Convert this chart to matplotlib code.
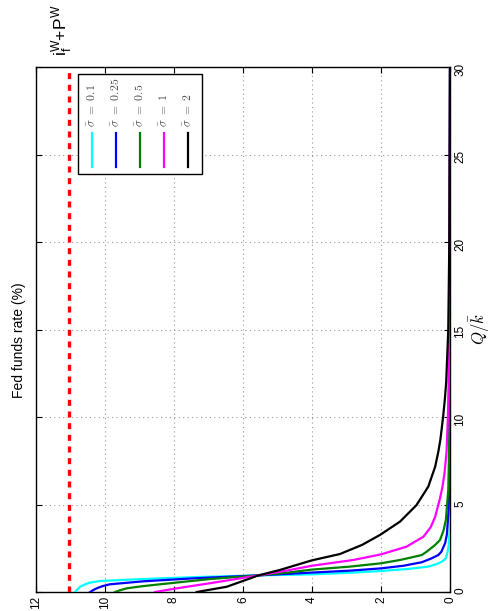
import matplotlib
matplotlib.use('Agg')
import matplotlib.pyplot as plt
from matplotlib.patches import Rectangle

plt.rcParams['font.family'] = ['Liberation Sans', 'DejaVu Sans']
plt.rcParams['mathtext.fontset'] = 'cm'

ceiling_rate = 11.05

sigma_labels = ['0.1', '0.25', '0.5', '1', '2']
colors = ['#00ffff', '#0000ff', '#008000', '#ff00ff', '#000000']

q_s01 = [0, 0.15, 0.3, 0.42, 0.53, 0.63, 0.74, 0.85, 0.95, 1.01, 1.1, 1.2, 1.32, 1.45, 1.6, 1.73, 1.9, 2.2, 2.6, 3.5, 30]
r_s01 = [10.87, 10.8, 10.72, 10.6, 10.45, 10.14, 8.9, 7.4, 5.55, 4.0, 2.9, 2.0, 1.2, 0.63, 0.38, 0.24, 0.13, 0.08, 0.04, 0.01, 0]

q_s025 = [0, 0.1, 0.21, 0.33, 0.44, 0.61, 0.78, 0.95, 1.11, 1.22, 1.35, 1.5, 1.7, 1.9, 2.11, 2.3, 2.8, 3.3, 4.7, 7, 30]
r_s025 = [10.43, 10.35, 10.24, 10.08, 9.86, 8.89, 7.44, 5.55, 4.0, 2.9, 2.0, 1.35, 0.82, 0.56, 0.34, 0.25, 0.14, 0.09, 0.04, 0.015, 0]

q_s05 = [0, 0.1, 0.21, 0.33, 0.44, 0.74, 0.95, 1.1, 1.28, 1.45, 1.64, 1.83, 2.11, 2.3, 2.69, 2.97, 3.5, 4.11, 5.83, 8.7, 12, 30]
r_s05 = [9.71, 9.56, 9.37, 8.92, 8.41, 6.96, 5.55, 4.75, 4.0, 2.9, 2.0, 1.45, 0.82, 0.68, 0.43, 0.29, 0.19, 0.12, 0.05, 0.02, 0.01, 0]

q_s1 = [0, 0.21, 0.5, 0.95, 1.2, 1.5, 1.83, 2.15, 2.59, 3.16, 3.7, 4.3, 5.35, 6.0, 6.78, 8.0, 10, 13, 30]
r_s1 = [8.55, 7.92, 6.96, 5.55, 4.8, 4.0, 2.8, 2.0, 1.26, 0.77, 0.56, 0.43, 0.29, 0.22, 0.16, 0.1, 0.06, 0.03, 0]

q_s2 = [0, 0.3, 0.95, 1.26, 1.81, 2.17, 2.69, 3.26, 4.02, 4.97, 6.02, 7.16, 8.0, 8.69, 10, 11, 12, 15, 20, 30]
r_s2 = [7.34, 6.47, 5.55, 4.93, 4.0, 3.19, 2.55, 2.03, 1.45, 0.97, 0.63, 0.43, 0.34, 0.28, 0.2, 0.15, 0.11, 0.05, 0.02, 0]

q_series = [q_s01, q_s025, q_s05, q_s1, q_s2]
r_series = [r_s01, r_s025, r_s05, r_s1, r_s2]

rate_ticks = [12, 10, 8, 6, 4, 2, 0]
q_ticks = [0, 5, 10, 15, 20, 25, 30]

fig = plt.figure(figsize=(4.91, 6.11), dpi=100)
ax = fig.add_axes([0.0733, 0.0311, 0.8432, 0.8592])

# chart is drawn turned on its side: rate runs right-to-left, Q runs upward
ax.axvline(ceiling_rate, color='red', lw=2.4, linestyle=(0, (1.8, 1.7)), zorder=3)
for q, r, c in zip(q_series, r_series, colors):
    ax.plot(r, q, color=c, lw=1.6, zorder=4)

ax.set_xlim(12, 0)
ax.set_ylim(0, 30)
ax.set_xticks(rate_ticks)
ax.set_yticks(q_ticks)
ax.yaxis.tick_right()
ax.yaxis.set_label_position('right')
ax.tick_params(direction='in', length=4, labelsize=8.5, top=True, bottom=True)
ax.tick_params(axis='y', left=True, right=True, labelleft=False, labelright=True,
               labelrotation=90, pad=3)
ax.tick_params(axis='x', labelrotation=90, pad=3)
ax.grid(True, linestyle=(0, (1, 3)), color='0.6', lw=0.8)
for s in ax.spines.values():
    s.set_linewidth(1.0)

ax.set_ylabel(r'$Q/\bar{k}$', rotation=90, fontsize=12, labelpad=1)

# legend, built by hand because its entries are rotated
ax.add_patch(Rectangle((0.101, 0.796), 0.300, 0.191, transform=ax.transAxes,
                       fc='white', ec='black', lw=1.0, zorder=5))
for i, (lab, c) in enumerate(zip(sigma_labels, colors)):
    x = 0.135 + i * 0.058
    ax.plot([x, x], [0.810, 0.874], transform=ax.transAxes, color=c, lw=1.6, zorder=6)
    ax.text(x, 0.886, r'$\bar{\sigma}\ =\ ' + lab + '$', transform=ax.transAxes,
            rotation=90, ha='center', va='bottom', fontsize=8.5, color='0.3', zorder=6)

fig.text(19 / 491, 1 - 340 / 611, 'Fed funds rate (%)', rotation=90,
         ha='center', va='center', fontsize=10)
fig.text(61.5 / 491, 1 - 56 / 611, r'$\mathregular{i_f^W}$+P$^\mathregular{W}$',
         rotation=90, ha='center', va='bottom', fontsize=12.5)

fig.savefig('out.png', dpi=100)
plt.close(fig)
